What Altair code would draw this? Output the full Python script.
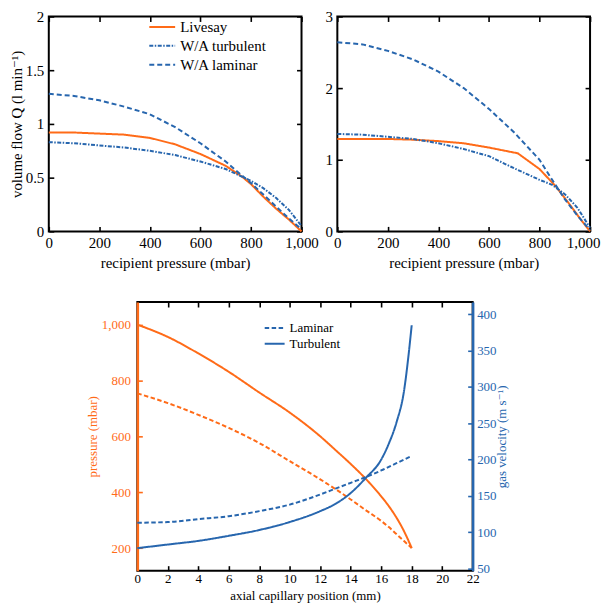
import altair as alt
import pandas as pd

FONT = "'Liberation Serif', 'Times New Roman', Times, 'DejaVu Serif', serif"
ORANGE = "#FF6B18"
BLUE = "#2766AE"

# ---------------- data ----------------
# top-left panel
tl_p = [0, 100, 200, 300, 400, 500, 600, 700, 764, 800, 850, 900, 950, 1000]
tl_livesay = [0.92, 0.92, 0.91, 0.90, 0.87, 0.81, 0.72, 0.61, 0.51, 0.44, 0.32, 0.21, 0.11, 0.0]
tl_turb = [0.83, 0.82, 0.80, 0.78, 0.75, 0.71, 0.65, 0.58, 0.51, 0.47, 0.40, 0.31, 0.20, 0.05]
tl_lam = [1.28, 1.26, 1.22, 1.16, 1.09, 0.97, 0.82, 0.65, 0.52, 0.45, 0.34, 0.23, 0.12, 0.02]

# top-right panel
tr_p_livesay = [0, 100, 200, 300, 400, 500, 600, 714, 800, 864, 925, 960, 1000]
tr_livesay = [1.29, 1.29, 1.29, 1.28, 1.26, 1.23, 1.17, 1.09, 0.87, 0.63, 0.35, 0.18, 0.0]
tr_p = [0, 100, 200, 300, 400, 500, 600, 700, 800, 850, 900, 950, 1000]
tr_turb = [1.36, 1.35, 1.32, 1.29, 1.23, 1.15, 1.05, 0.88, 0.72, 0.65, 0.52, 0.33, 0.05]
tr_lam = [2.64, 2.61, 2.52, 2.40, 2.23, 2.00, 1.71, 1.38, 1.00, 0.72, 0.45, 0.22, 0.02]

models = ["Livesay", "W/A turbulent", "W/A laminar"]

# bottom panel
b_x = [0, 2, 4, 6, 8, 10, 12, 13, 14, 15, 16, 16.5, 17, 17.5, 17.8, 18]
p_turb = [1000, 956, 897, 831, 757, 685, 600, 551, 501, 447, 385, 350, 309, 260, 225, 200]
p_lam = [754, 719, 677, 630, 576, 511, 446, 411, 374, 335, 297, 275, 250, 225, 210, 200]
v_lam = [113, 114, 118, 122, 129, 138, 152, 160, 168, 176, 185, 190, 195, 200, 203, 205]
v_turb = [78, 83, 88, 95, 103, 114, 129, 139, 154, 175, 200, 222, 251, 295, 345, 385]
b_models = ["Laminar", "Turbulent"]

tl_xticks = [0, 200, 400, 600, 800, 1000]
tl_yticks = [0, 0.5, 1, 1.5, 2]
tr_yticks = [0, 1, 2, 3]
b_xticks = list(range(0, 23, 2))
b_pticks = [200, 400, 600, 800, 1000]
b_vticks = [50, 100, 150, 200, 250, 300, 350, 400]

LINE_PATH = "M-1.333,0L1.333,0"


# ---------------- helpers ----------------
def tick_axis(orient, values, fmt=None, title=None, fs=15, lp=5, tp=4,
              color="black", labels=True, title_angle=None, label_offset=None):
    kw = dict(orient=orient, values=values, offset=-5, tickSize=5, tickWidth=1.6,
              tickColor=color, domain=False, grid=False, labels=labels,
              labelFont=FONT, labelFontSize=fs, labelColor=color, labelPadding=lp,
              labelFlush=False, labelOverlap=False,
              titleFont=FONT, titleFontSize=fs, titleFontWeight="normal",
              titleColor=color, titlePadding=tp, title=title)
    if fmt is not None:
        kw["format"] = fmt
    if title_angle is not None:
        kw["titleAngle"] = title_angle
    if label_offset is not None:
        kw["labelOffset"] = label_offset
    return alt.Axis(**kw)


def long_df(xs_list, ys_list, names, xname, yname):
    rows = []
    for xs, ys, n in zip(xs_list, ys_list, names):
        for i, (a, b) in enumerate(zip(xs, ys)):
            rows.append({xname: a, yname: b, "model": n, "order": i})
    return pd.DataFrame(rows)


dash_top = alt.Scale(domain=models, range=[[1, 0], [4, 1.5, 1.5, 1.5], [5, 3]])
color_top = alt.Scale(domain=models, range=[ORANGE, BLUE, BLUE])

TOP_W = 254
TOP_H = 216


def top_panel(df, ydom, yticks, ytitle, legend, last_shift=None):
    xs = alt.Scale(domain=[0, 1000], nice=False, zero=False)
    ys = alt.Scale(domain=ydom, nice=False, zero=False)
    if legend:
        leg = alt.Legend(orient="none", legendX=103, legendY=-0.5, title=None,
                         symbolType=LINE_PATH, symbolSize=380, symbolStrokeWidth=2,
                         labelFont=FONT, labelFontSize=15, labelOffset=7,
                         rowPadding=0, padding=0, labelLimit=300)
    else:
        leg = None
    main = alt.Chart(df).mark_line(strokeWidth=2).encode(
        x=alt.X("p:Q", scale=xs,
                axis=tick_axis("bottom", tl_xticks, fmt=",.0f",
                               title="recipient pressure (mbar)", lp=4, tp=5,
                               label_offset=last_shift)),
        y=alt.Y("q:Q", scale=ys,
                axis=tick_axis("left", yticks, fmt="~g", title=ytitle, lp=5, tp=1)),
        color=alt.Color("model:N", scale=color_top, legend=leg),
        strokeDash=alt.StrokeDash("model:N", scale=dash_top, legend=leg),
        order="order:Q",
    )
    mirror = alt.Chart(df).mark_point(opacity=0).encode(
        x=alt.X("p:Q", scale=xs, axis=tick_axis("top", tl_xticks, labels=False)),
        y=alt.Y("q:Q", scale=ys, axis=tick_axis("right", yticks, labels=False)),
    )
    return alt.layer(main, mirror).resolve_axis(x="independent", y="independent").properties(
        width=TOP_W, height=TOP_H,
        view=alt.ViewBackground(stroke="black", strokeWidth=2))


tl_df = long_df([tl_p, tl_p, tl_p], [tl_livesay, tl_turb, tl_lam], models, "p", "q")
tr_df = long_df([tr_p_livesay, tr_p, tr_p], [tr_livesay, tr_turb, tr_lam], models, "p", "q")

tl = top_panel(tl_df, [0, 2], tl_yticks, "volume flow Q (l min⁻¹)", True)
tr = top_panel(tr_df, [0, 3], tr_yticks, None, False,
               last_shift={"condition": {"test": "datum.value == 1000", "value": -7}, "value": 0})

top_row = alt.hconcat(tl, tr, spacing=36, bounds="flush")

# ---------------- bottom panel ----------------
p_df = long_df([b_x, b_x], [p_lam, p_turb], b_models, "x", "pr")
v_df = long_df([b_x, b_x], [v_lam, v_turb], b_models, "x", "v")

bxs = alt.Scale(domain=[0, 22], nice=False, zero=False)
bps = alt.Scale(domain=[119, 1081], nice=False, zero=False)
bvs = alt.Scale(domain=[47, 417], nice=False, zero=False)
dash_b = alt.Scale(domain=b_models, range=[[4.5, 2.5], [1, 0]])

pA = alt.Chart(p_df).mark_line(strokeWidth=2, color=ORANGE, interpolate="monotone").encode(
    x=alt.X("x:Q", scale=bxs,
            axis=tick_axis("bottom", b_xticks, fmt="d", title="axial capillary position (mm)",
                           fs=13, lp=2, tp=4)),
    y=alt.Y("pr:Q", scale=bps,
            axis=tick_axis("left", b_pticks, fmt=",.0f", title="pressure (mbar)", fs=13,
                           lp=7, tp=2, color=ORANGE)),
    strokeDash=alt.StrokeDash("model:N", scale=dash_b, legend=None),
    order="order:Q",
)
pB = alt.Chart(p_df).mark_point(opacity=0).encode(
    x=alt.X("x:Q", scale=bxs, axis=tick_axis("top", b_xticks, labels=False)),
    y=alt.Y("pr:Q", scale=bps,
            axis=alt.Axis(orient="left", domain=True, domainColor=ORANGE, domainWidth=2.5,
                          ticks=False, labels=False, title=None, grid=False)),
)
vC = alt.Chart(v_df).mark_line(strokeWidth=2, color=BLUE, interpolate="monotone").encode(
    x=alt.X("x:Q", scale=bxs, axis=None),
    y=alt.Y("v:Q", scale=bvs,
            axis=tick_axis("right", b_vticks, fmt="d", title="gas velocity (m s⁻¹)", fs=13,
                           lp=4, tp=13, color=BLUE, title_angle=270)),
    strokeDash=alt.StrokeDash(
        "model:N", scale=dash_b,
        legend=alt.Legend(orient="none", legendX=129.5, legendY=17.5, title=None,
                          symbolType=LINE_PATH, symbolSize=225, symbolStrokeWidth=2,
                          symbolStrokeColor=BLUE,
                          labelFont=FONT, labelFontSize=13, labelOffset=6.5,
                          rowPadding=0, padding=0)),
    order="order:Q",
)
vD = alt.Chart(v_df).mark_point(opacity=0).encode(
    x=alt.X("x:Q", scale=bxs, axis=None),
    y=alt.Y("v:Q", scale=bvs,
            axis=alt.Axis(orient="right", domain=True, domainColor=BLUE, domainWidth=2.5,
                          ticks=False, labels=False, title=None, grid=False)),
)

bottom = alt.layer(pA, pB, vC, vD).resolve_scale(
    y="independent", strokeDash="independent"
).resolve_axis(x="independent", y="independent").resolve_legend(
    strokeDash="independent"
).properties(width=337, height=270,
             view=alt.ViewBackground(stroke="black", strokeWidth=2))

spacer = alt.Chart(pd.DataFrame({"a": [0]})).mark_point(opacity=0, size=1).encode(
    x=alt.X("a:Q", axis=None, scale=alt.Scale(domain=[-1, 1])),
    y=alt.Y("a:Q", axis=None, scale=alt.Scale(domain=[-1, 1])),
).properties(width=89, height=270, view=alt.ViewBackground(strokeWidth=0))

bottom_row = alt.hconcat(spacer, bottom, spacing=0, bounds="flush")

chart = alt.vconcat(top_row, bottom_row, spacing=29).properties(
    padding={"top": -1, "left": 0, "right": 0, "bottom": 0}
).configure(font=FONT).configure_view(stroke="black")

chart.save("out.html", embed_options={"renderer": "svg", "actions": False})
